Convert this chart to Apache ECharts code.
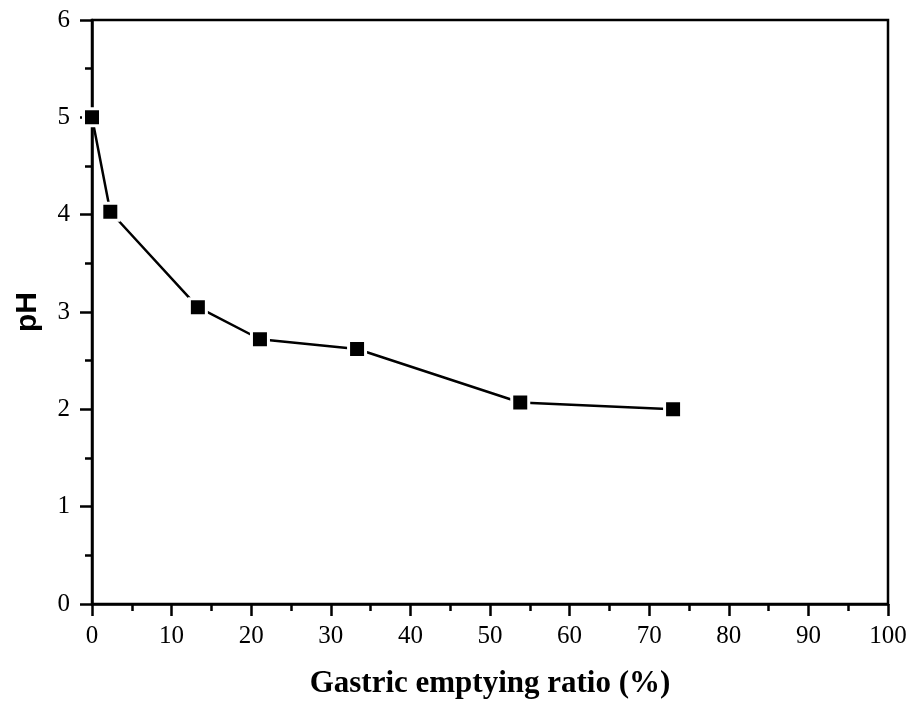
<!DOCTYPE html>
<html>
<head>
<meta charset="utf-8">
<script src="https://cdn.jsdelivr.net/npm/echarts@6/dist/echarts.min.js"></script>
<style>
  html, body { margin: 0; padding: 0; background: #fff; }
  #chart { width: 914px; height: 704px; }
</style>
</head>
<body>
<div id="chart"></div>
<script>
// values
var emptyingRatio = [0, 2.3, 13.3, 21.1, 33.3, 53.8, 73.0];
var phValues = [5.0, 4.03, 3.05, 2.72, 2.62, 2.07, 2.0];

var points = emptyingRatio.map(function (x, i) { return [x, phValues[i]]; });

var serif = '"Liberation Serif", "Times New Roman", serif';
var sans = '"Liberation Sans", Arial, sans-serif';

var chart = echarts.init(document.getElementById('chart'));
var option = {
    animation: false,
    backgroundColor: '#fff',
    grid: {
        left: 92, right: 26, top: 20, bottom: 100,
        show: true, borderColor: '#000', borderWidth: 2.5, backgroundColor: 'transparent'
    },
    xAxis: {
        type: 'value',
        min: 0, max: 100, interval: 10,
        name: 'Gastric emptying ratio (%)',
        nameLocation: 'middle',
        nameGap: 64,
        nameTextStyle: { fontFamily: serif, fontSize: 31, fontWeight: 'bold', color: '#000' },
        axisLine: { show: true, lineStyle: { color: '#000', width: 2.5 } },
        axisTick: { show: true, inside: false, length: 12, lineStyle: { color: '#000', width: 2.5 } },
        minorTick: { show: true, splitNumber: 2, length: 7, lineStyle: { color: '#000', width: 2.5 } },
        axisLabel: { fontFamily: serif, fontSize: 25, color: '#000', margin: 20 },
        splitLine: { show: false }
    },
    yAxis: {
        type: 'value',
        min: 0, max: 6, interval: 1,
        name: 'pH',
        nameLocation: 'middle',
        nameGap: 49,
        nameRotate: 90,
        nameTextStyle: { fontFamily: sans, fontSize: 30, fontWeight: 'bold', color: '#000' },
        axisLine: { show: true, lineStyle: { color: '#000', width: 2.5 } },
        axisTick: { show: true, inside: false, length: 12, lineStyle: { color: '#000', width: 2.5 } },
        minorTick: { show: true, splitNumber: 2, length: 7, lineStyle: { color: '#000', width: 2.5 } },
        axisLabel: { fontFamily: serif, fontSize: 25, color: '#000', margin: 22 },
        splitLine: { show: false }
    },
    series: [
        {
            type: 'line',
            data: points,
            symbol: 'rect',
            symbolSize: 17,
            clip: true,
            lineStyle: { color: '#000', width: 2.5 },
            itemStyle: { color: '#000', borderColor: '#fff', borderWidth: 3 }
        }
    ]
};
chart.setOption(option);
</script>
</body>
</html>
